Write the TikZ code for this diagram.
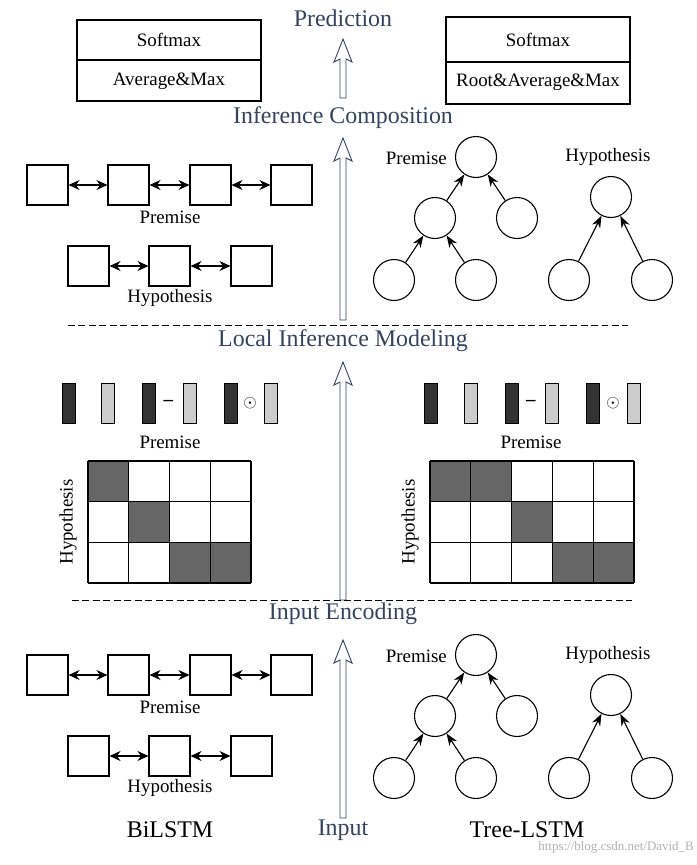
\documentclass[tikz,border=0pt]{standalone}
\usepackage{fontspec}
\setmainfont{Liberation Serif}
\usetikzlibrary{arrows.meta}
\definecolor{title}{HTML}{34445E}
\definecolor{darkbar}{HTML}{333333}
\definecolor{lightbar}{HTML}{CCCCCC}
\definecolor{cellfill}{HTML}{666666}
\tikzset{
  x=1bp,y=-1bp,
  ttl/.style={text=title,font=\fontsize{24}{26}\selectfont,inner sep=0},
  lbl/.style={font=\fontsize{19}{21}\selectfont,inner sep=0},
  big/.style={font=\fontsize{24}{26}\selectfont,inner sep=0},
  sq/.style={draw,line width=1.1pt,minimum width=41bp,minimum height=40bp,inner sep=0},
  cir/.style={draw,circle,line width=1.1pt,minimum size=41bp,inner sep=0},
  barr/.style={line width=1.1pt,{Stealth[length=11pt,width=10pt]}-{Stealth[length=11pt,width=10pt]}},
  tarr/.style={line width=1.1pt,-{Stealth[length=12pt,width=9pt]}},
  hollow/.style={draw=title,line width=0.9pt,fill=white},
  bar/.style={draw,line width=0.9pt,minimum width=13bp,minimum height=40bp,inner sep=0},
  sepline/.style={line width=1pt,dash pattern=on 7pt off 3.5pt},
}
\newcommand{\uparr}[3]{% x, ybottom, ytop
  \draw[hollow] (#1-3,#2)--(#1-3,#3+20)--(#1-9,#3+23)--(#1,#3)--(#1+9,#3+23)--(#1+3,#3+20)--(#1+3,#2)--cycle;}
\newcommand{\chain}[2]{% prefix, y offset
  \foreach \i/\x in {1/47.5,2/128.5,3/210.5,4/291.5}{\node[sq] (#1p\i) at (\x,185+#2) {};}
  \foreach \i/\x in {1/88.5,2/169.5,3/251.5}{\node[sq] (#1h\i) at (\x,266+#2) {};}
  \draw[barr] (#1p1)--(#1p2); \draw[barr] (#1p2)--(#1p3); \draw[barr] (#1p3)--(#1p4);
  \draw[barr] (#1h1)--(#1h2); \draw[barr] (#1h2)--(#1h3);
  \node[lbl] (#1pl) at (170,217+#2) {Premise};
  \node[lbl] (#1hl) at (170,298+#2) {Hypothesis};}
\newcommand{\tree}[2]{%
  \node[cir] (#1r) at (476,157+#2) {};
  \node[cir] (#1m) at (435,218+#2) {};
  \node[cir] (#1n) at (517,218+#2) {};
  \node[cir] (#1a) at (394,280+#2) {};
  \node[cir] (#1b) at (476,280+#2) {};
  \node[cir] (#1R) at (611,197+#2) {};
  \node[cir] (#1A) at (569,280+#2) {};
  \node[cir] (#1B) at (652,280+#2) {};
  \draw[tarr] (#1m)--(#1r); \draw[tarr] (#1n)--(#1r);
  \draw[tarr] (#1a)--(#1m); \draw[tarr] (#1b)--(#1m);
  \draw[tarr] (#1A)--(#1R); \draw[tarr] (#1B)--(#1R);
  \node[lbl,anchor=east] (#1pl) at (447,158+#2) {Premise};
  \node[lbl] (#1hl) at (608,157+#2) {Hypothesis};}
\begin{document}
\begin{tikzpicture}
\useasboundingbox[fill=white] (0,0) rectangle (697,865);
% titles
\node[ttl] (pred) at (343,18) {Prediction};
\node[ttl] (ic) at (343,118) {Inference Composition};
\node[ttl] (lim) at (343,341) {Local Inference Modeling};
\node[ttl] (ie) at (343,614) {Input Encoding};
\node[ttl] (inp) at (343,830) {Input};
\uparr{343}{98}{39}
\uparr{343}{320}{138}
\uparr{343}{600}{362}
\uparr{343}{818}{640}
% top boxes
\draw[line width=1.1pt] (77,20) rectangle (261,101); \draw[line width=1.1pt] (77,60)--(261,60);
\node[lbl] (s1) at (169,40) {Softmax};
\node[lbl] (a1) at (169,81) {Average\&Max};
\draw[line width=1.1pt] (446,17) rectangle (630,104); \draw[line width=1.1pt] (446,62)--(630,62);
\node[lbl] (s2) at (538,40) {Softmax};
\node[lbl] (a2) at (538,82) {Root\&Average\&Max};
% upper chains and trees
\chain{u}{0}
\tree{t}{0}
\chain{d}{490}
\tree{b}{498}
% dashed lines
\draw[sepline] (68,325)--(628,325);
\draw[sepline] (72,600)--(632,600);
% vectors
\foreach \x/\c in {68.5/darkbar,107.5/lightbar,148.5/darkbar,189.5/lightbar,230.5/darkbar,270.5/lightbar,
                   430.5/darkbar,470.5/lightbar,511.5/darkbar,551.5/lightbar,592.5/darkbar,633.5/lightbar}
  {\node[bar,fill=\c] at (\x,403) {};}
\node[lbl] (m1) at (168.5,403) {\textbf{--}};
\node[lbl] (o1) at (250,403) {$\odot$};
\node[lbl] (m2) at (531,403) {\textbf{--}};
\node[lbl] (o2) at (613,403) {$\odot$};
\node[lbl] (vp1) at (170,442) {Premise};
\node[lbl] (vp2) at (531,442) {Premise};
% grids
\foreach \c/\r in {0/0,1/1,2/2,3/2}{\fill[cellfill] (88+40.75*\c,461+40.7*\r) rectangle ++(40.75,40.7);}
\foreach \i in {0,...,4}{\draw[line width=1.1pt] (88+40.75*\i,461)--(88+40.75*\i,583);}
\foreach \i in {0,...,3}{\draw[line width=1.1pt] (88,461+40.67*\i)--(251,461+40.67*\i);}
\node[lbl,rotate=90] (gh1) at (68,522) {Hypothesis};
\foreach \c/\r in {0/0,1/0,2/1,3/2,4/2}{\fill[cellfill] (430+40.8*\c,461+40.7*\r) rectangle ++(40.8,40.7);}
\foreach \i in {0,...,5}{\draw[line width=1.1pt] (430+40.8*\i,461)--(430+40.8*\i,583);}
\foreach \i in {0,...,3}{\draw[line width=1.1pt] (430,461+40.67*\i)--(634,461+40.67*\i);}
\node[lbl,rotate=90] (gh2) at (410,522) {Hypothesis};
% bottom labels
\node[big] (bil) at (170,830) {BiLSTM};
\node[big] (tl) at (527,830) {Tree-LSTM};
\node[text=black!30,font=\fontsize{13}{13}\selectfont,anchor=east,inner sep=0] (wm) at (694,847) {https://blog.csdn.net/David\_B};
\end{tikzpicture}
\end{document}
